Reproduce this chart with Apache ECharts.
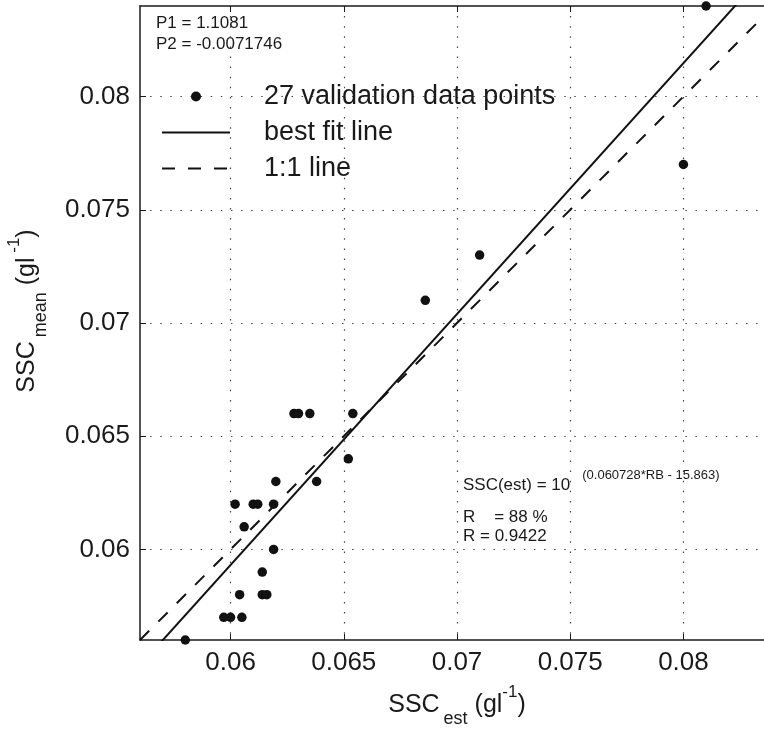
<!DOCTYPE html>
<html>
<head>
<meta charset="utf-8">
<script src="https://cdn.jsdelivr.net/npm/echarts@6/dist/echarts.min.js"></script>
<style>
  html, body { margin: 0; padding: 0; background: #fff; }
  #chart { width: 764px; height: 729px; }
</style>
</head>
<body>
<div id="chart"></div>
<script>
// axis values
const axisMin = 0.056;
const axisMax = 0.084;
const tickValues = [0.06, 0.065, 0.07, 0.075, 0.08];

// 27 validation data points (estimated vs mean SSC)
const sscEst = [0.0580, 0.0597, 0.0600, 0.0605, 0.0604, 0.0614, 0.0616, 0.0614, 0.0619,
  0.0606, 0.0602, 0.0610, 0.0612, 0.0619, 0.0620, 0.0628, 0.0630, 0.0635, 0.0654,
  0.0638, 0.0652, 0.0686, 0.0710, 0.0800, 0.0810];
const sscMean = [0.056, 0.057, 0.057, 0.057, 0.058, 0.058, 0.058, 0.059, 0.060,
  0.061, 0.062, 0.062, 0.062, 0.062, 0.063, 0.066, 0.066, 0.066, 0.066,
  0.063, 0.064, 0.071, 0.073, 0.077, 0.084];

// end points of best fit line (P1 = 1.1081, P2 = -0.0071746) and 1:1 line
const fitX = [0.056, 0.084];
const fitY = [0.05488, 0.08591];
const oneX = [0.056, 0.084];
const oneY = [0.056, 0.084];

const font = 'Liberation Sans, Arial, Helvetica, sans-serif';
const ink = '#1a1a1a';

const chart = echarts.init(document.getElementById('chart'));

const gridLine = { show: true, lineStyle: { color: '#444', width: 1.2, type: [1.5, 8.6] } };
const nameRich = {
  m: { fontSize: 25, fontFamily: font, color: ink, verticalAlign: 'middle' },
  sub: { fontSize: 18, fontFamily: font, color: ink, lineHeight: 46, verticalAlign: 'bottom', padding: [0, 0, 0, 4] },
  sup: { fontSize: 17, fontFamily: font, color: ink, verticalAlign: 'top', padding: [2, 0, 0, 0] }
};
const noMarker = { color: 'transparent', borderWidth: 0 };

const option = {
  backgroundColor: '#fff',
  animation: false,
  textStyle: { fontFamily: font, color: ink },
  grid: { left: 140, top: 6, right: -10, bottom: 89, containLabel: false, outerBoundsMode: 'none' },
  legend: {
    orient: 'vertical',
    left: 156,
    top: 78,
    itemWidth: 68,
    itemHeight: 10,
    itemGap: 9,
    data: [
      { name: '27 validation data points', icon: 'circle' },
      { name: 'best fit line', itemStyle: noMarker },
      { name: '1:1 line', itemStyle: noMarker }
    ],
    textStyle: { fontFamily: font, fontSize: 27, color: ink, padding: [0, 0, 0, 29] }
  },
  xAxis: [{
    type: 'value',
    min: axisMin,
    max: axisMax,
    position: 'bottom',
    name: '{m|SSC}{sub|est}{m| (gl}{sup|-1}{m|)}',
    nameLocation: 'middle',
    nameGap: 42,
    nameTextStyle: { rich: nameRich },
    axisLine: { onZero: false, lineStyle: { color: ink, width: 1.5 } },
    axisTick: { inside: true, length: 6, customValues: tickValues, lineStyle: { color: ink } },
    axisLabel: { customValues: tickValues, fontSize: 26, color: ink, margin: 10, fontFamily: font },
    splitLine: gridLine
  }, {
    type: 'value',
    min: axisMin,
    max: axisMax,
    position: 'top',
    axisLine: { onZero: false, lineStyle: { color: ink, width: 1.5 } },
    axisTick: { inside: true, length: 6, customValues: tickValues, lineStyle: { color: ink } },
    axisLabel: { show: false },
    splitLine: { show: false }
  }],
  yAxis: {
    type: 'value',
    min: axisMin,
    max: axisMax,
    name: '{m|SSC}{sub|mean}{m| (gl}{sup| -1}{m|)}',
    nameLocation: 'middle',
    nameGap: 90,
    nameTextStyle: { rich: nameRich, padding: [0, 0, 0, 24] },
    axisLine: { onZero: false, lineStyle: { color: ink, width: 1.5 } },
    axisTick: { inside: true, length: 6, customValues: tickValues, lineStyle: { color: ink } },
    axisLabel: { customValues: tickValues, fontSize: 26, color: ink, margin: 10, fontFamily: font },
    splitLine: gridLine
  },
  graphic: [
    { type: 'text', left: 156, top: 15, style: { text: 'P1 = 1.1081', font: '17px ' + font, fill: ink } },
    { type: 'text', left: 156, top: 36, style: { text: 'P2 = -0.0071746', font: '17px ' + font, fill: ink } },
    {
      type: 'text', left: 463, top: 469,
      style: {
        text: '{m|SSC(est) = 10}{s|(0.060728*RB - 15.863)}',
        rich: {
          m: { fontSize: 17, fontFamily: font, fill: ink, verticalAlign: 'bottom', lineHeight: 30 },
          s: { fontSize: 13, fontFamily: font, fill: ink, verticalAlign: 'top', padding: [5, 0, 0, 12] }
        }
      }
    },
    { type: 'text', left: 463, top: 509, style: { text: 'R    = 88 %', font: '17px ' + font, fill: ink } },
    { type: 'text', left: 463, top: 528, style: { text: 'R = 0.9422', font: '17px ' + font, fill: ink } }
  ],
  series: [
    {
      name: '27 validation data points',
      type: 'scatter',
      symbol: 'circle',
      symbolSize: 9.5,
      itemStyle: { color: '#111', opacity: 1 },
      data: sscEst.map((x, i) => [x, sscMean[i]]),
      z: 5
    },
    {
      name: 'best fit line',
      type: 'line',
      symbol: 'none',
      clip: true,
      itemStyle: { color: '#111' },
      lineStyle: { color: '#111', width: 2 },
      data: fitX.map((x, i) => [x, fitY[i]])
    },
    {
      name: '1:1 line',
      type: 'line',
      symbol: 'none',
      clip: true,
      itemStyle: { color: '#111' },
      lineStyle: { color: '#111', width: 2, type: [13, 13] },
      data: oneX.map((x, i) => [x, oneY[i]])
    }
  ]
};

chart.setOption(option);
window.addEventListener('resize', function () {
  chart.resize();
});
</script>
</body>
</html>
